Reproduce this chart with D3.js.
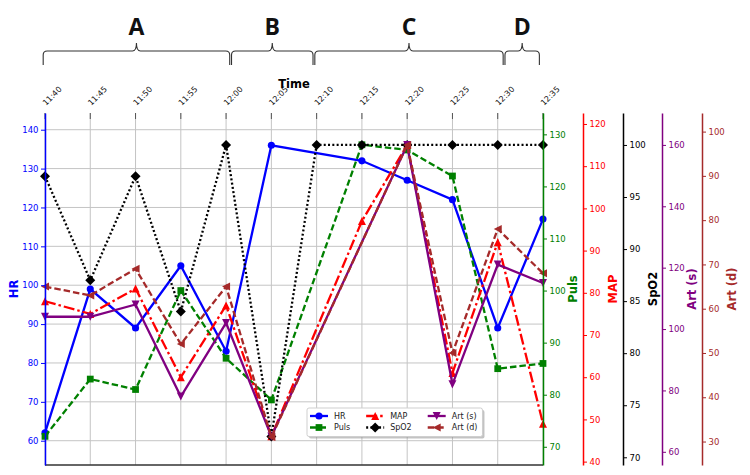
<!DOCTYPE html>
<html>
<head>
<meta charset="utf-8">
<script src="https://cdn.jsdelivr.net/npm/d3@7"></script>
<style>
  body { margin: 0; background: #fff; }
  svg { display: block; font-family: 'DejaVu Sans', sans-serif; }
</style>
</head>
<body>
<svg></svg>
<script>
const times = ['11:40', '11:45', '11:50', '11:55', '12:00', '12:05', '12:10', '12:15', '12:20', '12:25', '12:30', '12:35']
const hr = [62, 99, 89, 105, 83, 136, null, 132, 127, 122, 89, 117]
const puls = [72, 83, 81, 100, 87, 79, null, 128, 127, 122, 85, 86]
const mapBP = [78, 75, 81, 60, 77, 46, null, 97, 115, 61, 92, 49]
const spo2 = [97, 87, 97, 84, 100, 72, 100, 100, 100, 100, 100, 100]
const artS = [104, 104, 108, 78, 102, 65, null, null, 160, 82, 121, 115]
const artD = [65, 63, 69, 52, 65, 31, null, null, 97, 50, 78, 68]

const hrTicks = d3.range(60, 141, 10)
const pulsTicks = d3.range(70, 131, 10)
const mapTicks = d3.range(40, 121, 10)
const spo2Ticks = d3.range(70, 101, 5)
const artSTicks = d3.range(60, 161, 20)
const artDTicks = d3.range(30, 101, 10)

// phase brackets above the chart, in minutes after 11:40
const phases = ['A', 'B', 'C', 'D']
const phaseFrom = [-0.2, 20.6, 29.8, 50.8]
const phaseTo = [20.4, 29.6, 50.6, 54.6]

const width = 750
const height = 475
const margin = { top: 113, bottom: 10, left: 45, right: 207 }
const plotBottom = height - margin.bottom
const plotRight = width - margin.right

const svg = d3.select('svg').
  attr('width', width).
  attr('height', height)

const minutes = t => {
  const [h, m] = t.split(':').map(Number)
  return h * 60 + m - 700
}

const x = d3.scaleLinear().
  domain([0, 55]).
  range([margin.left, plotRight])

const series = [
  { name: 'HR', values: hr, color: '#0000ff', dash: null, marker: 'circle', domain: [53.75, 144.3], ticks: hrTicks, axisX: margin.left, labelX: 14 },
  { name: 'Puls', values: puls, color: '#008000', dash: '6.5,3', marker: 'square', domain: [66.5, 134.1], ticks: pulsTicks, axisX: plotRight, labelX: 572.5 },
  { name: 'MAP', values: mapBP, color: '#ff0000', dash: '11,3,2.5,3', marker: 'up', domain: [39.2, 122.6], ticks: mapTicks, axisX: 583, labelX: 613 },
  { name: 'SpO2', values: spo2, color: '#000000', dash: '2,2.3', marker: 'diamond', domain: [69.26, 103.07], ticks: spo2Ticks, axisX: 623, labelX: 652.5 },
  { name: 'Art (s)', values: artS, color: '#800080', dash: null, marker: 'down', domain: [55.7, 170.4], ticks: artSTicks, axisX: 662, labelX: 691.5 },
  { name: 'Art (d)', values: artD, color: '#a52a2a', dash: '6.5,3', marker: 'left', domain: [24.7, 104.2], ticks: artDTicks, axisX: 702, labelX: 732 }
]

series.forEach(s => {
  s.y = d3.scaleLinear().domain(s.domain).range([plotBottom, margin.top])
})

const markerPath = type => {
  const h = 4
  if (type === 'circle') return d3.symbol(d3.symbolCircle, 40)()
  if (type === 'square') return d3.symbol(d3.symbolSquare, 46)()
  if (type === 'diamond') return `M0,${-5}L5,0L0,5L${-5},0Z`
  if (type === 'up') return `M0,${-h}L${h},${h}L${-h},${h}Z`
  if (type === 'down') return `M0,${h}L${h},${-h}L${-h},${-h}Z`
  return `M${-h},0L${h},${-h}L${h},${h}Z`
}

// grid
const hrScale = series[0].y
svg.append('g').
  selectAll('line').data(times).
  enter().append('line').
  attr('x1', d => x(minutes(d))).
  attr('x2', d => x(minutes(d))).
  attr('y1', margin.top).
  attr('y2', plotBottom).
  attr('stroke', '#c4c4c4').
  attr('stroke-width', 1)

svg.append('g').
  selectAll('line').data(hrTicks).
  enter().append('line').
  attr('x1', margin.left).
  attr('x2', plotRight).
  attr('y1', d => hrScale(d)).
  attr('y2', d => hrScale(d)).
  attr('stroke', '#c4c4c4').
  attr('stroke-width', 1)

// top time axis
svg.append('g').
  selectAll('line').data(times).
  enter().append('line').
  attr('x1', d => x(minutes(d))).
  attr('x2', d => x(minutes(d))).
  attr('y1', margin.top).
  attr('y2', margin.top + 6).
  attr('stroke', '#555')

svg.append('g').
  selectAll('text').data(times).
  enter().append('text').
  attr('transform', d => `translate(${x(minutes(d)) + 1},106) rotate(-45)`).
  attr('font-size', 8).
  attr('fill', '#111').
  text(d => d)

svg.append('text').
  attr('x', (margin.left + plotRight) / 2).
  attr('y', 87.5).
  attr('text-anchor', 'middle').
  attr('font-size', 11.5).
  attr('font-weight', 'bold').
  text('Time')

svg.append('line').
  attr('x1', margin.left).
  attr('x2', plotRight).
  attr('y1', plotBottom).
  attr('y2', plotBottom).
  attr('stroke', '#333').
  attr('stroke-width', 1.3)

// series lines and markers
series.forEach(s => {
  const pts = times.map((t, i) => ({ t: minutes(t), v: s.values[i] })).filter(d => d.v !== null)
  const line = d3.line().
    x(d => x(d.t)).
    y(d => s.y(d.v))

  const g = svg.append('g')
  g.append('path').
    attr('d', line(pts)).
    attr('fill', 'none').
    attr('stroke', s.color).
    attr('stroke-width', 2.3).
    attr('stroke-dasharray', s.dash)

  g.selectAll('path.mk').data(pts).
    enter().append('path').
    attr('class', 'mk').
    attr('d', markerPath(s.marker)).
    attr('transform', d => `translate(${x(d.t)},${s.y(d.v)})`).
    attr('fill', s.color)
})

// y axes
series.forEach((s, i) => {
  const axis = (i === 0 ? d3.axisLeft(s.y) : d3.axisRight(s.y)).
    tickValues(s.ticks).
    tickSize(4).
    tickSizeOuter(0).
    tickPadding(2.5)

  const g = svg.append('g').
    attr('transform', `translate(${s.axisX},0)`).
    call(axis).
    attr('font-size', 8.5).
    attr('font-family', 'DejaVu Sans')

  g.select('.domain').attr('stroke', s.color).attr('stroke-width', 1.5)
  g.selectAll('.tick line').attr('stroke', s.color)
  g.selectAll('.tick text').attr('fill', s.color)

  svg.append('text').
    attr('transform', `translate(${s.labelX},${(margin.top + plotBottom) / 2}) rotate(-90)`).
    attr('text-anchor', 'middle').
    attr('dy', '0.36em').
    attr('font-size', 11.5).
    attr('font-weight', 'bold').
    attr('fill', s.color).
    text(s.name)
})

// legend
const legend = svg.append('g').attr('transform', 'translate(307,408)')
const shadow = legend.append('rect')
const frame = legend.append('rect')
const handleLen = 18
const textPad = 6
const colGap = 16
const rowY = [8, 19.5]
let colX = 3
let legendW = 0
for (let c = 0; c < 3; c++) {
  let maxW = 0
  for (let r = 0; r < 2; r++) {
    const s = series[c * 2 + r]
    const item = legend.append('g').attr('transform', `translate(${colX},${rowY[r]})`)
    item.append('line').
      attr('x1', 0).
      attr('x2', handleLen).
      attr('stroke', s.color).
      attr('stroke-width', 2.3).
      attr('stroke-dasharray', s.dash)
    item.append('path').
      attr('d', markerPath(s.marker)).
      attr('transform', `translate(${handleLen / 2},0)`).
      attr('fill', s.color)
    const txt = item.append('text').
      attr('x', handleLen + textPad).
      attr('dy', '0.35em').
      attr('font-size', 8).
      attr('fill', '#222').
      text(s.name)
    maxW = Math.max(maxW, txt.node().getComputedTextLength())
  }
  legendW = colX + handleLen + textPad + maxW + 5
  colX += handleLen + textPad + maxW + colGap
}
shadow.
  attr('x', 2).attr('y', 2).
  attr('width', legendW).attr('height', 28.5).
  attr('rx', 2).
  attr('fill', '#888').
  attr('opacity', 0.5)
frame.
  attr('width', legendW).attr('height', 28.5).
  attr('rx', 2).
  attr('fill', '#fff').
  attr('stroke', '#cfcfcf')

// phase braces
const brace = (x0, x1) => {
  const xm = (x0 + x1) / 2
  return `M${x0},65L${x0},55Q${x0},51 ${x0 + 4},51L${xm - 4},51Q${xm},51 ${xm},43` +
    `Q${xm},51 ${xm + 4},51L${x1 - 4},51Q${x1},51 ${x1},55L${x1},65`
}

const braces = svg.append('g').
  selectAll('g').data(phases).
  enter().append('g')

braces.append('path').
  attr('d', (d, i) => brace(x(phaseFrom[i]), x(phaseTo[i]))).
  attr('fill', 'none').
  attr('stroke', '#333').
  attr('stroke-width', 1.1)

braces.append('text').
  attr('x', (d, i) => (x(phaseFrom[i]) + x(phaseTo[i])) / 2).
  attr('y', 34.5).
  attr('text-anchor', 'middle').
  attr('font-family', 'Open Sans').
  attr('font-weight', 'bold').
  attr('font-size', 23).
  attr('fill', '#111').
  text(d => d)
</script>
</body>
</html>
